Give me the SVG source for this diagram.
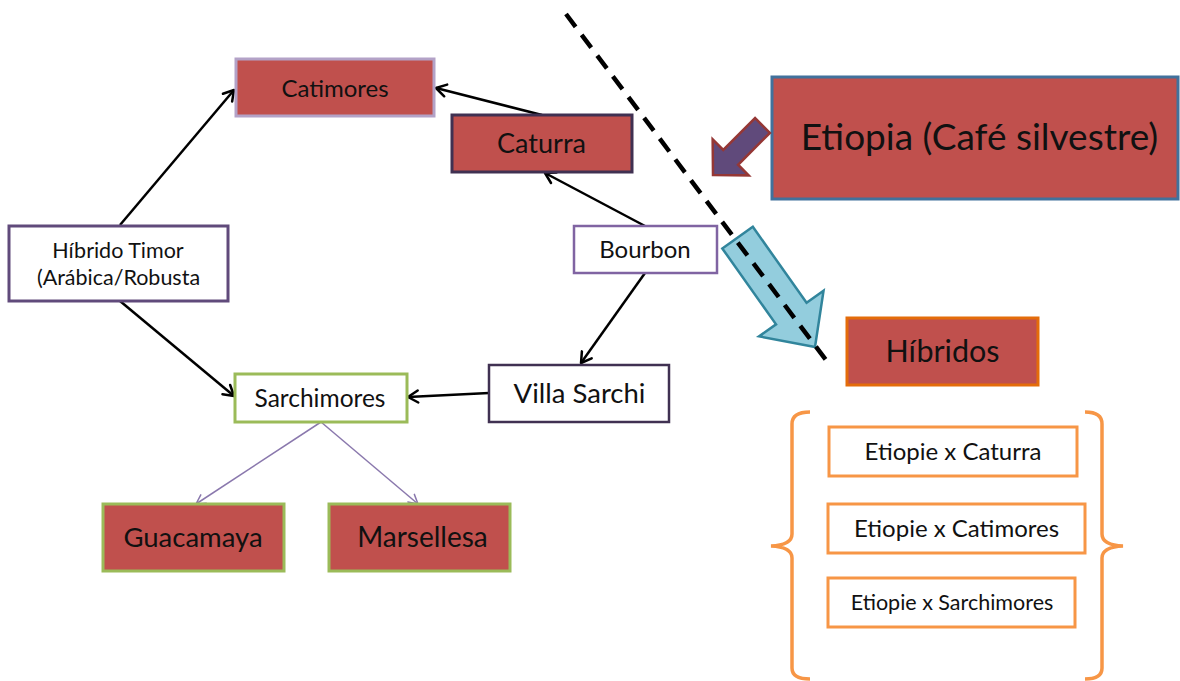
<svg xmlns="http://www.w3.org/2000/svg" width="1180" height="681" viewBox="0 0 1180 681">
<defs>
<marker id="ah" markerUnits="userSpaceOnUse" markerWidth="16" markerHeight="16" viewBox="0 0 16 16" refX="13" refY="8" orient="auto">
<path d="M3,2 L13,8 L3,14" fill="none" stroke="#000" stroke-width="2.5" stroke-linecap="round" stroke-linejoin="round"/>
</marker>
<marker id="ahp" markerUnits="userSpaceOnUse" markerWidth="14" markerHeight="14" viewBox="0 0 14 14" refX="12" refY="7" orient="auto">
<path d="M3,2 L12,7 L3,12" fill="none" stroke="#8a78ad" stroke-width="1.5" stroke-linecap="round" stroke-linejoin="round"/>
</marker>
</defs>
<style>
text{font-family:Lato,"Liberation Sans",sans-serif;fill:#111;text-anchor:middle}
.red{fill:#c0504d}
.wht{fill:#fff}
.con{stroke:#000;stroke-width:2.5;fill:none;marker-end:url(#ah)}
.conp{stroke:#8a78ad;stroke-width:1.5;fill:none;marker-end:url(#ahp)}
.org{fill:#fff;stroke:#f79646;stroke-width:3}
</style>
<rect width="1180" height="681" fill="#fff"/>

<g id="connectors">
<line class="con" x1="120" y1="225" x2="234" y2="90"/>
<line class="con" x1="542" y1="115" x2="436" y2="88"/>
<line class="con" x1="645" y1="226" x2="545" y2="173"/>
<line class="con" x1="645" y1="273" x2="581" y2="363"/>
<line class="con" x1="120" y1="301" x2="234" y2="396"/>
<line class="con" x1="489" y1="393" x2="408" y2="397"/>
<line class="conp" x1="321" y1="422" x2="196" y2="504"/>
<line class="conp" x1="321" y1="422" x2="418" y2="504"/>
</g>

<g id="catimores">
<rect class="red" x="236" y="59" width="198" height="57" stroke="#b3a2c7" stroke-width="3"/>
<text x="335" y="97" font-size="24">Catimores</text>
</g>
<g id="caturra">
<rect class="red" x="452" y="115" width="180" height="57" stroke="#403152" stroke-width="3"/>
<text x="541.5" y="153" font-size="27">Caturra</text>
</g>
<g id="bourbon">
<rect class="wht" x="574" y="226" width="143" height="47" stroke="#8064a2" stroke-width="2.5"/>
<text x="645" y="258" font-size="24">Bourbon</text>
</g>
<g id="hibrido-timor">
<rect class="wht" x="9" y="226" width="219" height="75" stroke="#604a7b" stroke-width="3"/>
<text x="118" y="258" font-size="21.5">Híbrido Timor</text>
<text x="118.5" y="285" font-size="21.5">(Arábica/Robusta</text>
</g>
<g id="villa-sarchi">
<rect class="wht" x="489" y="365" width="180" height="57" stroke="#403152" stroke-width="2.5"/>
<text x="579.5" y="403" font-size="27.5">Villa Sarchi</text>
</g>
<g id="sarchimores">
<rect class="wht" x="235" y="374" width="172" height="48" stroke="#9bbb59" stroke-width="3"/>
<text x="320" y="407" font-size="24.5">Sarchimores</text>
</g>
<g id="guacamaya">
<rect class="red" x="103" y="504" width="181" height="67" stroke="#9bbb59" stroke-width="3"/>
<text x="193" y="547" font-size="27.5">Guacamaya</text>
</g>
<g id="marsellesa">
<rect class="red" x="329" y="504" width="181" height="67" stroke="#9bbb59" stroke-width="3"/>
<text x="422.5" y="547" font-size="28">Marsellesa</text>
</g>

<g id="etiopia">
<rect class="red" x="772" y="77" width="406" height="122" stroke="#41719c" stroke-width="3"/>
<text x="979.5" y="150" font-size="37">Etiopia (Café silvestre)</text>
</g>

<g id="purple-arrow">
<polygon transform="translate(713,175) rotate(135)" points="0,0 -25,-25.5 -25,-10.5 -70,-10.5 -70,10.5 -25,10.5 -25,25.5" fill="#604a7b" stroke="#953735" stroke-width="2.5" stroke-linejoin="miter"/>
</g>

<g id="blue-arrow">
<polygon transform="translate(815,347) rotate(54.7)" points="0,0 -41,-39.5 -41,-18.7 -134,-18.7 -134,18.7 -41,18.7 -41,39.5" fill="#93cddd" stroke="#31859c" stroke-width="2.5"/>
</g>

<g id="dashed-line">
<line x1="566" y1="14" x2="829" y2="364" stroke="#000" stroke-width="4.5" stroke-dasharray="16,10"/>
</g>

<g id="hibridos">
<rect class="red" x="847" y="318" width="191" height="67" stroke="#e46c0a" stroke-width="3"/>
<text x="942.5" y="362" font-size="30.5">Híbridos</text>
</g>

<g id="brackets">
<path d="M810,412 Q792,412 792,424 L792,534 Q792,545 771,546 Q792,547 792,558 L792,668 Q792,679 810,679" fill="none" stroke="#f79646" stroke-width="3.5"/>
<path d="M1085,412 Q1102,412 1102,424 L1102,534 Q1102,545 1123,546 Q1102,547 1102,558 L1102,668 Q1102,679 1085,679" fill="none" stroke="#f79646" stroke-width="3.5"/>
</g>

<g id="etiopie-caturra">
<rect class="org" x="829" y="427" width="248" height="49"/>
<text x="953" y="460" font-size="24">Etiopie x Caturra</text>
</g>
<g id="etiopie-catimores">
<rect class="org" x="828" y="504" width="257" height="49"/>
<text x="956.5" y="537" font-size="24">Etiopie x Catimores</text>
</g>
<g id="etiopie-sarchimores">
<rect class="org" x="828" y="578" width="247" height="49"/>
<text x="952" y="610" font-size="21.5">Etiopie x Sarchimores</text>
</g>
</svg>
